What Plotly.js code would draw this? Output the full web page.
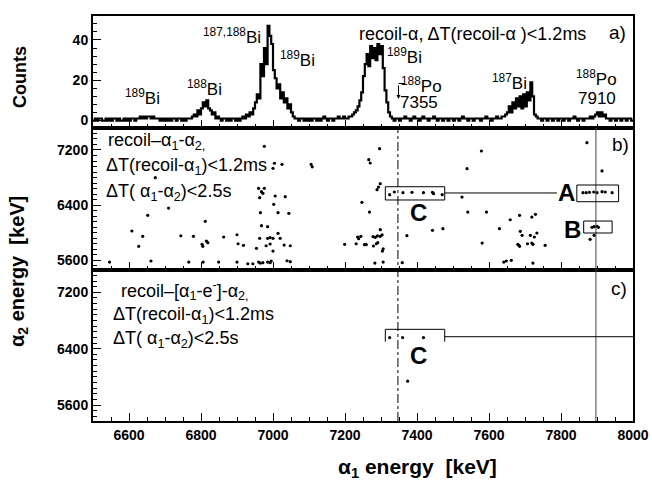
<!DOCTYPE html>
<html><head><meta charset="utf-8">
<script src="https://cdn.plot.ly/plotly-3.0.1.min.js"></script>
<style>html,body{margin:0;padding:0;background:#fff}</style>
</head><body>
<div id="chart" style="width:652px;height:481px"></div>
<script>
// ---- Panel a: alpha-1 energy histogram (5 keV bins from 6500 keV)
const binStart = 6500;
const binWidth = 5;
const counts = [
  0,1,0,1,1,0,0,1,0,1,0,1,1,0,1,0,0,1,0,1,            // 6500
  0,1,1,0,1,1,2,1,2,1,2,2,1,2,1,1,1,0,1,0,            // 6600
  1,0,1,0,1,1,0,1,1,0,1,0,1,1,1,2,3,2,5,3,            // 6700
  6,9,7,10,6,5,3,4,1,2,1,0,1,1,0,1,0,1,1,0,           // 6800
  1,0,1,2,1,3,2,4,3,6,9,13,11,28,22,36,28,47,42,38,   // 6900
  25,21,16,18,11,14,9,11,6,8,4,2,1,1,0,1,1,0,1,0,     // 7000
  1,0,1,1,0,1,0,1,2,1,0,1,1,0,1,1,2,1,1,2,            // 7100
  1,1,2,2,3,4,5,7,10,14,22,28,33,27,37,31,36,30,38,33,// 7200
  37,26,15,9,4,2,1,0,1,1,0,1,1,2,1,1,0,1,2,1,         // 7300
  1,0,1,2,1,1,0,1,1,2,1,0,1,1,0,1,1,0,1,1,            // 7400
  0,1,1,0,1,2,1,1,0,1,1,0,1,1,1,0,1,1,2,1,            // 7500
  1,0,1,1,2,1,1,2,2,3,4,7,4,9,6,11,7,12,6,13,         // 7600
  7,14,10,19,12,3,2,1,1,0,1,1,0,1,1,0,1,1,0,1,        // 7700
  1,0,1,1,0,1,1,2,1,0,1,1,0,1,1,1,2,1,2,3,            // 7800
  4,2,4,2,3,1,1,0,1,1,0,1,1,0,1,1,0,1,1,0             // 7900
];

// ---- Tick labels
const e1Ticks = [6600, 6800, 7000, 7200, 7400, 7600, 7800, 8000];
const e2Ticks = [5600, 6400, 7200];
const countTicks = [0, 20, 40];

// ---- Panel b: recoil-alpha1-alpha2 correlations (keV)
const bE1 = [
  6976,6673,6710,6652,6812,6608,6638,6744,6779,6863,6900,6627,6803,6815,6819,6805,6903,6918,
  6546,6661,6766,6806,6849,6900,6930,6944,6960,
  7004,7000,7025,7106,7109,6960,6968,6976,6972,6963,7006,7034,7002,6965,7014,7044,6968,6985,7014,
  6963,6985,6992,7000,7020,6992,6981,7031,7048,6954,7000,
  6965,6972,6985,6992,6995,7039,7048,
  7296,7266,7270,7298,7293,7289,7247,7268,
  7324,7337,7361,7386,7418,7443,7446,7470,
  7372,7443,7472,7359,
  7235,7238,7244,7231,7199,7254,7259,7278,7284,7290,7298,7303,7298,7279,7287,7291,7306,7304,7283,7306,
  7872,7579,7539,7914,7525,
  7861,7870,7879,7891,7900,7914,7923,7942,
  7886,7892,7900,7904,7892,7881,
  7541,7593,7659,7685,7719,7729,7629,7687,7692,7715,7726,7733,
  7581,7680,7685,7683,7707,7719,7722,7756,7641,7648,7662,7722
];
const bE2 = [
  7254,6797,6356,6250,6163,6022,5945,5953,5945,5935,5968,5799,5828,5876,5852,5799,5837,5814,
  5571,5586,5571,5571,5571,5571,5546,5546,5571,
  7007,6934,6992,6990,6955,6643,6594,6643,6570,6506,6531,6521,6410,6288,6288,6279,6099,6085,5988,
  5916,5916,5925,5916,5916,5833,5808,5818,5808,5770,5731,
  5556,5561,5571,5561,5586,5590,5576,
  7219,7059,7011,6710,6662,6623,6439,6298,
  6550,6589,6579,6585,6579,6585,6565,6550,
  5954,6032,6056,5561,
  5935,5910,5945,5837,5828,5823,5823,5940,5930,5950,5945,5965,6041,5804,5837,5852,5764,5731,5556,5571,
  7306,7185,6928,6895,6516,
  6579,6579,6585,6589,6579,6594,6589,6579,
  6076,6085,6090,6076,5959,5901,
  6298,6298,6186,6250,6225,6265,6056,6017,5959,5959,5935,5993,
  5847,5828,5799,5814,5837,5847,5828,5814,5571,5586,5596,5556
];

// ---- Panel c: recoil-[alpha1-e]-alpha2 correlations (keV)
const cE1 = [7324, 7360, 7418, 7374];
const cE2 = [6557, 6557, 6557, 5939];

// ---- Marker lines / boxes (keV)
const po7355Line = 7347;
const po7910Line = 7897;
const boxC = {e1: [7312, 7477], e2: [6473, 6666]};
const boxA = {e1: [7844, 7960], e2: [6448, 6691]};
const boxB = {e1: [7863, 7942], e2: [5993, 6167]};
const linkE2b = 6575, linkEndB = 7789;
const bracketC = {e1: [7312, 7477], e2: [6499, 6675]};
const linkE2c = 6570;

const binX = counts.map((_, i) => binStart + i * binWidth);
binX.push(binStart + counts.length * binWidth);
const countsStep = counts.concat([counts[counts.length - 1]]);

const FONT = 'Liberation Sans, Arial, sans-serif';
const traces = [
  {x: binX, y: countsStep, xaxis: 'x3', yaxis: 'y3', mode: 'lines',
   line: {shape: 'hv', color: 'black', width: 2.2}, hoverinfo: 'skip'},
  {x: bE1, y: bE2, xaxis: 'x2', yaxis: 'y2', mode: 'markers',
   marker: {color: 'black', size: 3.2, symbol: 'circle'}},
  {x: cE1, y: cE2, xaxis: 'x', yaxis: 'y', mode: 'markers',
   marker: {color: 'black', size: 3.2, symbol: 'circle'}}
];

const tickFont = {family: FONT, size: 14, color: 'black'};
const bold = v => '<b>' + v + '</b>';
function xax(anchor, labels) {
  return {domain: [0, 1], range: [6500, 8000], anchor: anchor,
    tickmode: 'array', tickvals: e1Ticks, ticktext: e1Ticks.map(bold),
    ticks: 'inside', ticklen: 8, tickwidth: 1, tickcolor: 'black',
    minor: {tickmode: 'linear', ticks: 'inside', ticklen: 4, tickwidth: 1, tick0: 6500, dtick: 50, tickcolor: 'black', showgrid: false},
    showline: true, linewidth: 2, linecolor: 'black', mirror: true,
    showgrid: false, zeroline: false, showticklabels: labels, tickfont: tickFont};
}
function yax(anchor, dom, rng, vals, t0, mdt) {
  return {domain: dom, range: rng, anchor: anchor,
    tickmode: 'array', tickvals: vals, ticktext: vals.map(bold),
    ticks: 'inside', ticklen: 8, tickwidth: 1, tickcolor: 'black',
    minor: {tickmode: 'linear', ticks: 'inside', ticklen: 4, tickwidth: 1, tick0: t0, dtick: mdt, tickcolor: 'black', showgrid: false},
    showline: true, linewidth: 2, linecolor: 'black', mirror: true,
    showgrid: false, zeroline: false, tickfont: tickFont};
}

const dB = [0.3728, 0.7235];
function px2x(px) { return (px - 93) / 540; }
function py2y(py) { return (421 - py) / 405; }

function ann(text, px, py, opts) {
  return Object.assign({text: text, xref: 'paper', yref: 'paper', x: px2x(px), y: py2y(py),
    showarrow: false, xanchor: 'center', yanchor: 'middle',
    font: {family: FONT, size: 17, color: 'black'}}, opts || {});
}
const condFont = {family: FONT, size: 18, color: 'black'};
const bigFont = {family: FONT, size: 24, color: 'black', weight: 'bold'};
const tagFont = {family: FONT, size: 19, color: 'black'};

const annotations = [
  ann('recoil-α, ΔT(recoil-α )<1.2ms', 357, 34, {xanchor: 'left', font: {family: FONT, size: 18, color: 'black'}}),
  ann('a)', 628, 33, {xanchor: 'right', font: tagFont}),
  ann('<sup>189</sup>Bi', 142, 97),
  ann('<sup>188</sup>Bi', 204, 88),
  ann('<sup>187,188</sup>Bi', 232, 36),
  ann('<sup>189</sup>Bi', 297, 59),
  ann('<sup>189</sup>Bi', 404, 56),
  ann('<sup>188</sup>Po', 421, 85),
  ann('7355', 419, 103),
  ann('<sup>187</sup>Bi', 509, 82),
  ann('<sup>188</sup>Po', 596, 78),
  ann('7910', 597, 98),
  {text: '', xref: 'paper', yref: 'paper', x: px2x(398.5), y: py2y(99), ax: 0, ay: -15,
   showarrow: true, arrowhead: 2, arrowsize: 0.8, arrowwidth: 1, arrowcolor: 'black'},
  // panel b
  ann('recoil–α<sub>1</sub>-α<sub>2,</sub>', 106, 141, {xanchor: 'left', font: condFont}),
  ann('ΔT(recoil-α<sub>1</sub>)<1.2ms', 104, 167, {xanchor: 'left', font: condFont}),
  ann('ΔT( α<sub>1</sub>-α<sub>2</sub>)<2.5s', 104, 193, {xanchor: 'left', font: condFont}),
  ann('b)', 631, 144, {xanchor: 'right', font: tagFont}),
  ann('A', 566, 192, {font: bigFont}),
  ann('B', 572, 229, {font: bigFont}),
  ann('C', 418, 212, {font: bigFont}),
  // panel c
  ann('recoil–[α<sub>1</sub>-e<sup>-</sup>]-α<sub>2,</sub>', 119, 290, {xanchor: 'left', font: condFont}),
  ann('ΔT(recoil-α<sub>1</sub>)<1.2ms', 111, 315, {xanchor: 'left', font: condFont}),
  ann('ΔT( α<sub>1</sub>-α<sub>2</sub>)<2.5s', 111, 339, {xanchor: 'left', font: condFont}),
  ann('c)', 629, 288, {xanchor: 'right', font: tagFont}),
  ann('C', 418, 355, {font: bigFont}),
  // axis titles
  ann('<b>Counts</b>', 20, 77, {textangle: -90, font: {family: FONT, size: 18, color: 'black'}}),
  ann('<b>α<sub>2</sub> energy  [keV]</b>', 18, 272, {textangle: -90, font: {family: FONT, size: 20, color: 'black'}}),
  ann('<b>α<sub>1</sub> energy  [keV]</b>', 417, 468, {font: {family: FONT, size: 21, color: 'black'}})
];

const thin = {color: 'black', width: 1};
const shapes = [
  {type: 'line', xref: 'x', yref: 'paper', x0: po7355Line, x1: po7355Line, y0: 0, y1: dB[1],
   line: {color: 'black', width: 1, dash: 'dashdot'}},
  {type: 'line', xref: 'x', yref: 'paper', x0: po7910Line, x1: po7910Line, y0: 0, y1: dB[1],
   line: {color: '#444', width: 1}},
  {type: 'rect', xref: 'x2', yref: 'y2', x0: boxC.e1[0], x1: boxC.e1[1], y0: boxC.e2[0], y1: boxC.e2[1], line: thin, fillcolor: 'rgba(0,0,0,0)'},
  {type: 'rect', xref: 'x2', yref: 'y2', x0: boxA.e1[0], x1: boxA.e1[1], y0: boxA.e2[0], y1: boxA.e2[1], line: thin, fillcolor: 'rgba(0,0,0,0)'},
  {type: 'rect', xref: 'x2', yref: 'y2', x0: boxB.e1[0], x1: boxB.e1[1], y0: boxB.e2[0], y1: boxB.e2[1], line: thin, fillcolor: 'rgba(0,0,0,0)'},
  {type: 'line', xref: 'x2', yref: 'y2', x0: boxC.e1[1], x1: linkEndB, y0: linkE2b, y1: linkE2b, line: thin},
  {type: 'path', xref: 'x', yref: 'y',
   path: 'M ' + bracketC.e1[0] + ',' + bracketC.e2[0] + ' L ' + bracketC.e1[0] + ',' + bracketC.e2[1] +
         ' L ' + bracketC.e1[1] + ',' + bracketC.e2[1] + ' L ' + bracketC.e1[1] + ',' + bracketC.e2[0],
   line: thin},
  {type: 'line', xref: 'x', yref: 'y', x0: bracketC.e1[1], x1: 8000, y0: linkE2c, y1: linkE2c, line: thin},
  {type: 'line', xref: 'paper', yref: 'paper', x0: px2x(398.5), x1: px2x(405), y0: py2y(83.5), y1: py2y(83.5), line: thin}
];

const layout = {
  width: 652, height: 481,
  margin: {l: 93, r: 19, t: 16, b: 60},
  paper_bgcolor: 'white', plot_bgcolor: 'white',
  showlegend: false,
  font: {family: FONT, color: 'black'},
  xaxis: xax('y', true),
  xaxis2: xax('y2', false),
  xaxis3: xax('y3', false),
  yaxis: yax('x', [0, dB[0]], [5373, 7517], e2Ticks, 5600, 80),
  yaxis2: yax('x2', dB, [5455, 7520], e2Ticks, 5600, 80),
  yaxis3: yax('x3', [dB[1], 1], [-3.7, 51.9], countTicks, 0, 4),
  annotations: annotations,
  shapes: shapes
};

Plotly.newPlot('chart', traces, layout, {staticPlot: true, displayModeBar: false});
</script>
</body></html>
